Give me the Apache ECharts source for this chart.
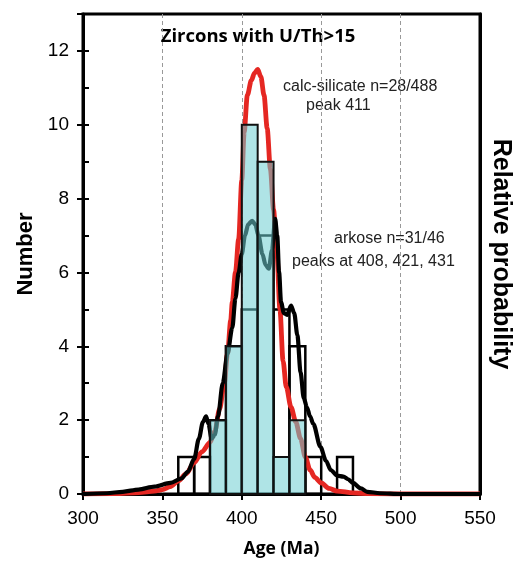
<!DOCTYPE html>
<html>
<head>
<meta charset="utf-8">
<script src="https://cdn.jsdelivr.net/npm/echarts@6/dist/echarts.min.js"></script>
<style>
html,body{margin:0;padding:0;background:#fff;}
#chart{width:519px;height:562px;}
</style>
</head>
<body>
<div id="chart"></div>
<script>
// ---- data ----
const binWidth = 10;
const binStarts = [360, 370, 380, 390, 400, 410, 420, 430, 440, 450, 460];
const arkoseCounts = [1, 1, 2, 4, 5, 7, 5, 4, 1, 0, 1];          // n = 31
const calcSilicateCounts = [0, 0, 2, 4, 10, 9, 1, 2, 0, 0, 0];   // n = 28

const xTicks = [300, 350, 400, 450, 500, 550];
const yTicks = [0, 2, 4, 6, 8, 10, 12];

// relative probability curves (age, height in left-axis units)
const calcSilicateCurve = [
  [300,0],[320,0.01],[335,0.04],[345,0.08],[350,0.12],[355,0.2],[360,0.35],[365,0.55],
  [370,0.85],[375,1.15],[380,1.4],[383,1.7],[386,2.3],[389,3.0],[391,3.8],[393,4.7],
  [394,5.2],[396,6.0],[398,6.9],[400,8.5],[401.5,9.8],[403.5,10.8],[406,11.2],[408,11.4],
  [410,11.5],[412,11.3],[414,10.8],[416,9.9],[418,8.8],[420,7.7],[422,6.6],[424,5.0],
  [426,3.6],[428,2.9],[431,2.35],[434,1.95],[437,1.5],[440,1.0],[443,0.65],[446,0.45],
  [450,0.3],[455,0.15],[460,0.08],[470,0.03],[480,0.01],[500,0],[550,0]
];
const arkoseCurve = [
  [300,0],[315,0.02],[325,0.06],[335,0.12],[345,0.2],[355,0.3],[362,0.42],[366,0.6],
  [370,0.95],[373,1.5],[375.5,1.95],[377.5,2.1],[379,1.9],[381,1.5],[383,1.6],[385,2.1],
  [388,3.0],[391,3.8],[394,4.5],[396,5.3],[398,6.0],[400,6.5],[402,7.0],[404,7.3],
  [406.5,7.4],[408.5,7.3],[410.5,7.0],[413,6.5],[415,6.2],[417,6.1],[419,6.6],[421,7.45],
  [422.3,7.0],[423.5,6.0],[424.7,5.2],[426.5,4.9],[428.5,4.85],[431,5.1],[433,4.9],
  [435,4.3],[437,3.3],[439,2.6],[441,2.35],[443,2.1],[445,1.9],[449.5,1.28],[453,0.9],
  [456,0.65],[460,0.5],[464,0.47],[467,0.4],[470,0.3],[475,0.15],[479,0.06],[487,0.02],
  [500,0],[550,0]
];

const chartTitle = 'Zircons with U/Th>15';
const calcLabel1 = 'calc-silicate n=28/488';
const calcLabel2 = 'peak 411';
const arkLabel1 = 'arkose n=31/46';
const arkLabel2 = 'peaks at 408, 421, 431';

// ---- chart ----
const chart = echarts.init(document.getElementById('chart'), null, {renderer: 'canvas'});

function histRenderer(fill, stroke, lw) {
  return function (params, api) {
    const x0 = api.value(0), c = api.value(1);
    if (!c) return null;
    const p0 = api.coord([x0, c]);
    const p1 = api.coord([x0 + binWidth, 0]);
    return {
      type: 'rect',
      shape: {x: p0[0], y: p0[1], width: p1[0] - p0[0], height: p1[1] - p0[1]},
      style: {fill: fill, stroke: stroke, lineWidth: lw}
    };
  };
}

const numFont = 'Liberation Sans, Arial, sans-serif';
const boldFont = 'Open Sans, Liberation Sans, sans-serif';

const option = {
  animation: false,
  backgroundColor: '#fff',
  grid: {left: 83, right: 39, top: 14, bottom: 68, show: true, borderColor: '#000', borderWidth: 3,
         containLabel: false, outerBoundsMode: 'none'},
  xAxis: {
    type: 'value', min: xTicks[0], max: xTicks[xTicks.length - 1], interval: 50,
    axisLine: {show: true, lineStyle: {color: '#000', width: 3}},
    axisTick: {show: true, length: 6, lineStyle: {color: '#000', width: 2}},
    axisLabel: {color: '#000', fontSize: 19, fontFamily: numFont, margin: 15},
    splitLine: {show: true, lineStyle: {color: '#999', width: 1, type: [4, 3]}},
    name: 'Age (Ma)', nameLocation: 'middle', nameGap: 46,
    nameTextStyle: {color: '#000', fontSize: 17.5, fontWeight: 'bold', fontFamily: boldFont}
  },
  yAxis: [
    {
      type: 'value', position: 'left', min: yTicks[0], max: 13, interval: 2,
      axisLine: {show: true, lineStyle: {color: '#000', width: 3}},
      axisTick: {show: true, length: 6, lineStyle: {color: '#000', width: 2}},
      axisLabel: {color: '#000', fontSize: 19, fontFamily: numFont, margin: 14,
        formatter: v => (yTicks.indexOf(v) >= 0 ? String(v) : '')},
      splitLine: {show: false},
      name: 'Number', nameLocation: 'middle', nameGap: 42, nameRotate: 90,
      nameTextStyle: {color: '#000', fontSize: 22, fontWeight: 'bold', fontFamily: numFont}
    },
    {
      type: 'value', position: 'left', min: 0, max: 13, interval: 1,
      axisLine: {show: false},
      axisTick: {show: true, inside: true, length: 6, lineStyle: {color: '#000', width: 2}},
      axisLabel: {show: false}, splitLine: {show: false}
    },
    {
      type: 'value', position: 'right', min: 0, max: 13,
      axisLine: {show: true, lineStyle: {color: '#000', width: 3}},
      axisTick: {show: false}, axisLabel: {show: false}, splitLine: {show: false},
      name: 'Relative probability', nameLocation: 'middle', nameGap: 8, nameRotate: -90,
      nameTextStyle: {color: '#000', fontSize: 25, fontWeight: 'bold', fontFamily: numFont}
    }
  ],
  series: [
    {
      name: 'arkose histogram', type: 'custom', yAxisIndex: 0, z: 2,
      renderItem: histRenderer('rgba(255,255,255,0)', '#000', 2.5),
      data: binStarts.map((b, i) => [b, arkoseCounts[i]])
    },
    {
      name: 'calc-silicate probability', type: 'line', yAxisIndex: 2, z: 3,
      data: calcSilicateCurve, showSymbol: false, smooth: 0.3, smoothMonotone: 'x',
      lineStyle: {color: '#e52722', width: 4.8}
    },
    {
      name: 'arkose probability', type: 'line', yAxisIndex: 2, z: 4,
      data: arkoseCurve, showSymbol: false, smooth: 0.3, smoothMonotone: 'x',
      lineStyle: {color: '#000', width: 4.2}
    },
    {
      name: 'calc-silicate histogram', type: 'custom', yAxisIndex: 0, z: 5,
      renderItem: histRenderer('rgba(110,205,210,0.55)', '#111', 2),
      data: binStarts.map((b, i) => [b, calcSilicateCounts[i]])
    }
  ],
  graphic: [
    {
      type: 'group', z: 50,
      children: [
        {type: 'rect', shape: {x: 150, y: 25, width: 218, height: 35}, style: {fill: '#fff'}},
        {type: 'text', x: 258, y: 37, style: {text: chartTitle, fill: '#000', font: 'bold 18.5px ' + boldFont, align: 'center', verticalAlign: 'middle'}}
      ]
    },
    {
      type: 'group', z: 50,
      children: [
        {type: 'rect', shape: {x: 280, y: 66, width: 166, height: 51}, style: {fill: '#fff'}},
        {type: 'text', x: 283, y: 87, style: {text: calcLabel1, fill: '#222', font: '16px ' + numFont, align: 'left', verticalAlign: 'middle'}},
        {type: 'text', x: 306, y: 106, style: {text: calcLabel2, fill: '#222', font: '16px ' + numFont, align: 'left', verticalAlign: 'middle'}}
      ]
    },
    {
      type: 'group', z: 50,
      children: [
        {type: 'rect', shape: {x: 288, y: 225, width: 178, height: 50}, style: {fill: '#fff'}},
        {type: 'text', x: 334, y: 239, style: {text: arkLabel1, fill: '#222', font: '16px ' + numFont, align: 'left', verticalAlign: 'middle'}},
        {type: 'text', x: 292, y: 262, style: {text: arkLabel2, fill: '#222', font: '16px ' + numFont, align: 'left', verticalAlign: 'middle'}}
      ]
    }
  ]
};
chart.setOption(option);
</script>
</body>
</html>
